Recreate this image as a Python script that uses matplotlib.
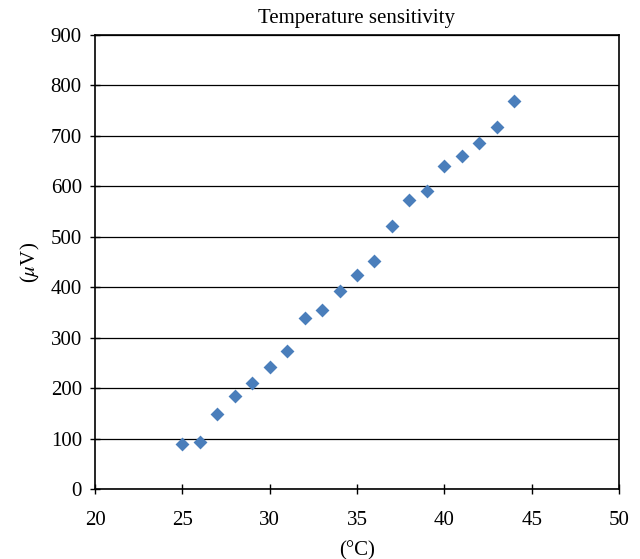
import matplotlib
matplotlib.use("Agg")
import matplotlib.pyplot as plt

temps = [25, 26, 27, 28, 29, 30, 31, 32, 33, 34, 35, 36, 37, 38, 39, 40, 41, 42, 43, 44]
volts = [90, 93, 148, 185, 210, 242, 274, 338, 354, 393, 425, 451, 522, 572, 590, 640, 660, 686, 717, 770]
xticks = [20, 25, 30, 35, 40, 45, 50]
yticks = [0, 100, 200, 300, 400, 500, 600, 700, 800, 900]

plt.rcParams['font.family'] = ['Liberation Serif', 'DejaVu Serif']
plt.rcParams['mathtext.fontset'] = 'stix'
fig = plt.figure(figsize=(6.4, 5.59), dpi=100)
ax = fig.add_axes([95/640, 1 - 489/559, 524/640, (489 - 35)/559])
ax.scatter(temps, volts, marker='D', s=50, color='#4a7ebb', zorder=3, linewidths=0)
ax.set_xlim(20, 50)
ax.set_ylim(0, 900)
ax.set_xticks(xticks)
ax.set_yticks(yticks)
ax.grid(axis='y', color='black', linewidth=0.9)
ax.set_axisbelow(True)
for s in ax.spines.values():
    s.set_color('black')
    s.set_linewidth(1.2)
ax.tick_params(axis='both', labelsize=15, direction='inout', length=7, width=1.0, color='black')
ax.tick_params(axis='x', pad=12)
ax.tick_params(axis='y', pad=6)
ax.set_title('Temperature sensitivity', fontsize=15, pad=9)
ax.set_xlabel('(°C)', fontsize=15, labelpad=8)
ax.set_ylabel('($\\mu$V)', fontsize=15, labelpad=6)
fig.savefig('out.png', dpi=100)
